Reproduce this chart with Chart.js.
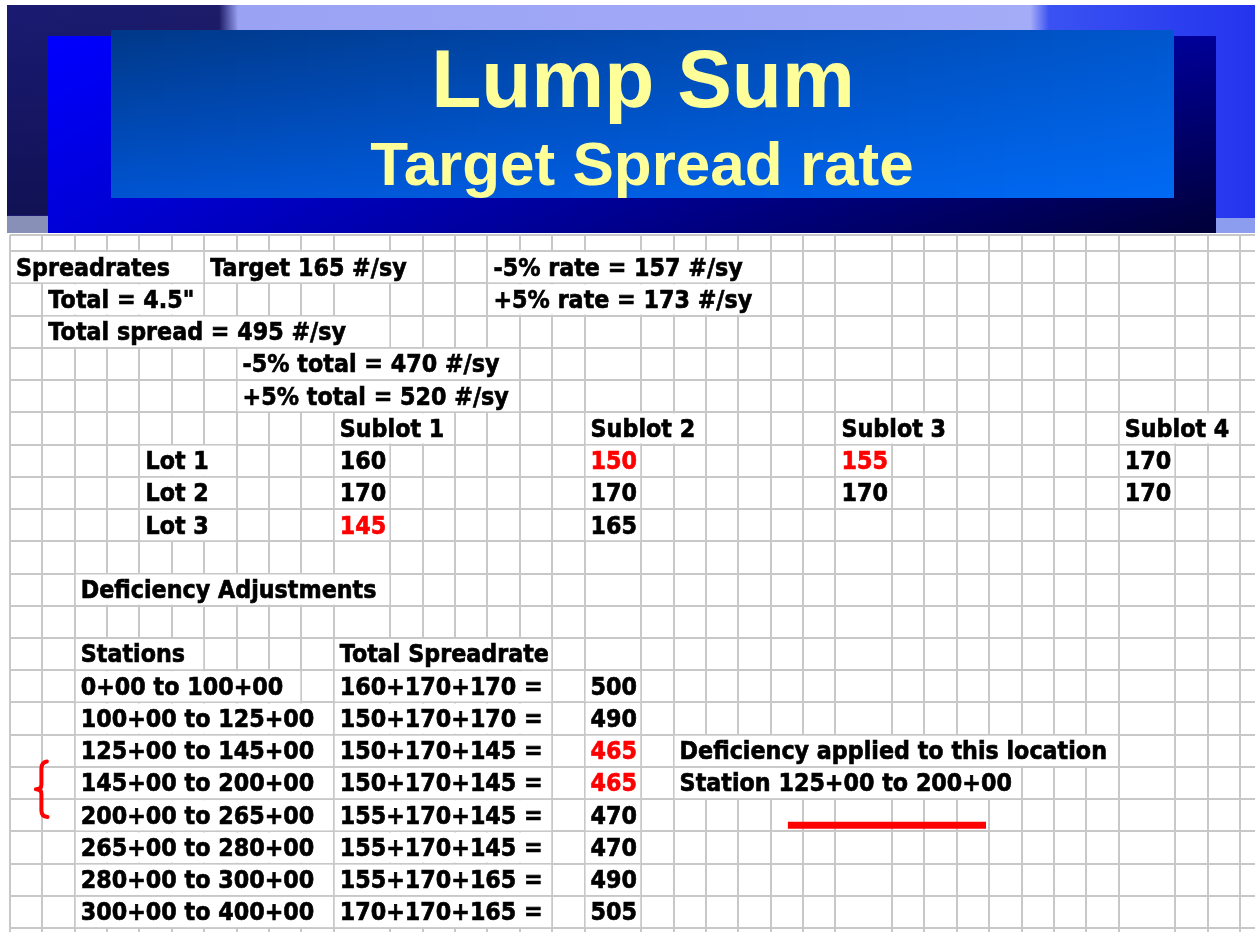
<!DOCTYPE html>
<html>
<head>
<meta charset="utf-8">
<title>Lump Sum - Target Spread rate</title>
<script src="https://cdn.jsdelivr.net/npm/chart.js@4.4.1/dist/chart.umd.min.js"></script>
<style>
    html, body { margin: 0; padding: 0; background: #fff; }
    canvas { display: block; }
</style>
</head>
<body>
<canvas id="sheet" width="1255" height="932"></canvas>
<script>
// ---- data ----
const titleText = 'Lump Sum';
const subtitleText = 'Target Spread rate';

const targetRate = 165;
const minusRate = 157;
const plusRate = 173;
const totalDepth = '4.5"';
const totalSpread = 495;
const minusTotal = 470;
const plusTotal = 520;

const sublots = ['Sublot 1', 'Sublot 2', 'Sublot 3', 'Sublot 4'];
const lots = ['Lot 1', 'Lot 2', 'Lot 3'];
const lot1Rates = [160, 150, 155, 170];
const lot2Rates = [170, 170, 170, 170];
const lot3Rates = [145, 165, null, null];

const stations = [
    '0+00 to 100+00', '100+00 to 125+00', '125+00 to 145+00', '145+00 to 200+00',
    '200+00 to 265+00', '265+00 to 280+00', '280+00 to 300+00', '300+00 to 400+00'
];
const course1 = [160, 150, 150, 150, 155, 155, 155, 170];
const course2 = [170, 170, 170, 170, 170, 170, 170, 170];
const course3 = [170, 170, 145, 145, 145, 145, 165, 165];
const stationTotals = [500, 490, 465, 465, 470, 470, 490, 505];

// ---- sheet layout ----
const WIDE_COLS = [10, 17, 24, 32];      // columns 1.75x wider than the rest
const SUBLOT_COLS = [10, 17, 24, 32];
const N_COLS = 35;
const BLACK = '#000000';
const RED = '#ff0000';
const GRID = '#c8c8c8';
const CELL_FONT = 'bold 25px "DejaVu Sans"';
const X_SQUEEZE = 0.89;
const PAD = 6;

const colEdge = c => c + 0.75 * WIDE_COLS.filter(w => w < c).length;
const xEdges = [];
for (let c = 0; c <= N_COLS; c++) xEdges.push(colEdge(c));
const yEdges = [0];
for (let r = 0.5; r <= 21.5; r++) yEdges.push(r);

const cells = [];
const put = (col, row, text, color) => cells.push({ x: colEdge(col), y: row, col, text, color: color || BLACK });

put(0, 1, 'Spreadrates');
put(6, 1, `Target ${targetRate} #/sy`);
put(14, 1, `-5% rate = ${minusRate} #/sy`);
put(1, 2, `Total = ${totalDepth}`);
put(14, 2, `+5% rate = ${plusRate} #/sy`);
put(1, 3, `Total spread = ${totalSpread} #/sy`);
put(7, 4, `-5% total = ${minusTotal} #/sy`);
put(7, 5, `+5% total = ${plusTotal} #/sy`);

sublots.forEach((s, i) => put(SUBLOT_COLS[i], 6, s));
[lot1Rates, lot2Rates, lot3Rates].forEach((rates, j) => {
    put(4, 7 + j, lots[j]);
    rates.forEach((v, i) => {
        if (v !== null) put(SUBLOT_COLS[i], 7 + j, String(v), v < minusRate ? RED : BLACK);
    });
});

put(2, 11, 'Deficiency Adjustments');
put(2, 13, 'Stations');
put(10, 13, 'Total Spreadrate');
stations.forEach((s, i) => {
    const row = 14 + i;
    put(2, row, s);
    put(10, row, `${course1[i]}+${course2[i]}+${course3[i]} =`);
    put(17, row, String(stationTotals[i]), stationTotals[i] < minusTotal ? RED : BLACK);
});

const short = stationTotals.map((t, i) => t < minusTotal ? i : -1).filter(i => i >= 0);
put(19, 14 + short[0], 'Deficiency applied to this location');
put(19, 15 + short[0],
    `Station ${stations[short[0]].split(' to ')[0]} to ${stations[short[short.length - 1]].split(' to ')[1]}`);

// ---- slide banner behind the sheet ----
const mix = (a, b, t) => a.map((v, i) => Math.round(v + (b[i] - v) * t));
const rgb = c => `rgb(${c[0]},${c[1]},${c[2]})`;

// four-corner colour fill, drawn as thin vertical strips
function cornerFill(ctx, x, y, w, h, tl, tr, bl, br) {
    for (let i = 0; i < w; i += 2) {
        const t = i / w;
        const g = ctx.createLinearGradient(0, y, 0, y + h);
        g.addColorStop(0, rgb(mix(tl, tr, t)));
        g.addColorStop(1, rgb(mix(bl, br, t)));
        ctx.fillStyle = g;
        ctx.fillRect(x + i, y, Math.min(2, w - i), h);
    }
}

const bannerPlugin = {
    id: 'banner',
    beforeDraw(chart) {
        const ctx = chart.ctx;
        ctx.save();
        ctx.fillStyle = '#ffffff';
        ctx.fillRect(0, 0, chart.width, chart.height);

        // photo strip
        const bg = ctx.createLinearGradient(7, 0, 1255, 0);
        bg.addColorStop(0, '#1a1a72');
        bg.addColorStop(0.17, '#1c1c6a');
        bg.addColorStop(0.185, '#9aa2f4');
        bg.addColorStop(0.82, '#a4acf8');
        bg.addColorStop(0.835, '#3a52f2');
        bg.addColorStop(1, '#2434ee');
        ctx.fillStyle = bg;
        ctx.fillRect(7, 5, 1248, 228);
        const shade = ctx.createLinearGradient(0, 5, 0, 215);
        shade.addColorStop(0, 'rgba(0,0,40,0)');
        shade.addColorStop(1, 'rgba(0,0,30,0.35)');
        ctx.fillStyle = shade;
        ctx.fillRect(7, 5, 230, 210);
        ctx.fillStyle = '#8890b8';
        ctx.fillRect(7, 216, 41, 17);
        ctx.fillStyle = '#8c9cee';
        ctx.fillRect(1216, 218, 39, 15);

        // outer panel
        cornerFill(ctx, 48, 36, 1168, 197, [0, 0, 255], [0, 0, 150], [0, 0, 216], [0, 0, 56]);
        // inner panel
        cornerFill(ctx, 111, 30, 1063, 168, [0, 56, 136], [0, 86, 204], [0, 84, 210], [0, 106, 244]);

        ctx.fillStyle = '#ffff99';
        ctx.textAlign = 'center';
        ctx.textBaseline = 'alphabetic';
        ctx.font = 'bold 82px "Liberation Sans", Arial, sans-serif';
        ctx.fillText(titleText, 643, 107);
        ctx.font = 'bold 62px "Liberation Sans", Arial, sans-serif';
        ctx.fillText(subtitleText, 642, 185);
        ctx.restore();
    }
};

// ---- cell texts, overflow covering the grid like a spreadsheet ----
const cellTextPlugin = {
    id: 'cellText',
    afterDatasetsDraw(chart) {
        const ctx = chart.ctx;
        const xs = chart.scales.x;
        const ys = chart.scales.y;
        const rowPx = Math.abs(ys.getPixelForValue(1) - ys.getPixelForValue(0));
        const meta = chart.getDatasetMeta(0);
        const data = chart.data.datasets[0].data;

        ctx.save();
        ctx.font = CELL_FONT;
        meta.data.forEach((pt, i) => {
            const cell = data[i];
            const x0 = pt.x;
            const top = pt.y - rowPx / 2;
            const w = ctx.measureText(cell.text).width * X_SQUEEZE;
            let end = cell.col + 1;
            while (end < N_COLS && xs.getPixelForValue(colEdge(end)) < x0 + PAD + w + 2) end++;
            const x1 = xs.getPixelForValue(colEdge(end));
            ctx.fillStyle = '#ffffff';
            ctx.fillRect(x0 + 1, top + 1, x1 - x0 - 2, rowPx - 2);

            ctx.fillStyle = cell.color;
            ctx.strokeStyle = cell.color;
            ctx.lineWidth = 0.7;
            ctx.save();
            ctx.translate(x0 + PAD, top + 24.5);
            ctx.scale(X_SQUEEZE, 1);
            ctx.fillText(cell.text, 0, 0);
            ctx.strokeText(cell.text, 0, 0);
            ctx.restore();
        });

        // hand drawn marks
        const px = v => xs.getPixelForValue(v);
        const py = v => ys.getPixelForValue(v);
        ctx.fillStyle = RED;
        ctx.fillRect(px(24.03), py(18.2), px(30.15) - px(24.03), 7);

        ctx.strokeStyle = RED;
        ctx.lineWidth = 4;
        ctx.lineCap = 'round';
        ctx.lineJoin = 'round';
        ctx.beginPath();
        ctx.moveTo(px(1.14), py(16.33));
        ctx.quadraticCurveTo(px(0.97), py(16.36), px(0.97), py(16.55));
        ctx.lineTo(px(0.97), py(17.05));
        ctx.quadraticCurveTo(px(0.97), py(17.19), px(0.8), py(17.19));
        ctx.quadraticCurveTo(px(0.97), py(17.19), px(0.97), py(17.33));
        ctx.lineTo(px(0.97), py(17.85));
        ctx.quadraticCurveTo(px(0.97), py(18.04), px(1.16), py(18.05));
        ctx.stroke();
        ctx.restore();
    }
};

const gridAxis = {
    type: 'linear',
    ticks: { display: false },
    border: { display: false },
    grid: { color: GRID, lineWidth: 2, drawTicks: false }
};

new Chart(document.getElementById('sheet'), {
    type: 'scatter',
    data: {
        datasets: [{
            data: cells,
            pointRadius: 0,
            pointHoverRadius: 0
        }]
    },
    options: {
        responsive: false,
        animation: false,
        events: [],
        layout: { padding: { top: 235, left: 10, right: 0, bottom: 0 } },
        plugins: {
            legend: { display: false },
            tooltip: { enabled: false },
            title: { display: false }
        },
        scales: {
            x: {
                ...gridAxis,
                min: 0,
                max: 38.46,
                afterBuildTicks: s => { s.ticks = xEdges.map(v => ({ value: v })); },
                afterFit: s => { s.height = 0; }
            },
            y: {
                ...gridAxis,
                reverse: true,
                min: 0,
                max: 21.62,
                afterBuildTicks: s => { s.ticks = yEdges.map(v => ({ value: v })); },
                afterFit: s => { s.width = 0; }
            }
        }
    },
    plugins: [bannerPlugin, cellTextPlugin]
});
</script>
</body>
</html>
